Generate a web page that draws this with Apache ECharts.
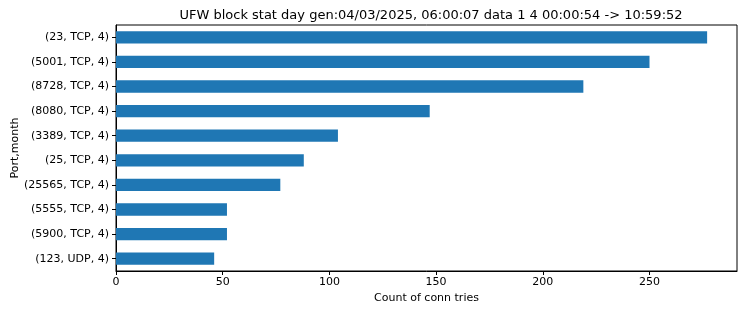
<!DOCTYPE html>
<html>
<head>
<meta charset="utf-8">
<script src="https://cdn.jsdelivr.net/npm/echarts@6/dist/echarts.min.js"></script>
<style>html,body{margin:0;padding:0;background:#fff}#c{width:743px;height:311px}</style>
</head>
<body>
<div id="c"></div>
<script>
const categories = ["(23, TCP, 4)", "(5001, TCP, 4)", "(8728, TCP, 4)", "(8080, TCP, 4)", "(3389, TCP, 4)", "(25, TCP, 4)", "(25565, TCP, 4)", "(5555, TCP, 4)", "(5900, TCP, 4)", "(123, UDP, 4)"];
const counts = [277, 250, 219, 147, 104, 88, 77, 52, 52, 46];
const xTicks = [0, 50, 100, 150, 200, 250];
const titleText = "UFW block stat day gen:04/03/2025, 06:00:07 data 1 4 00:00:54 -> 10:59:52";

const font = "DejaVu Sans";
const chart = echarts.init(document.getElementById('c'), null, {renderer: 'canvas'});
chart.setOption({
  animation: false,
  title: {
    text: titleText,
    left: 426, top: 4, textAlign: 'center',
    textStyle: {fontFamily: font, fontSize: 13, fontWeight: 'normal', color: '#000'}
  },
  grid: {left: 116, right: 6, top: 25, bottom: 40, show: true, borderColor: '#000', borderWidth: 1, backgroundColor: '#fff', containLabel: false, outerBoundsMode: 'none'},
  xAxis: {
    type: 'value', min: 0, max: 291,
    name: 'Count of conn tries', nameLocation: 'middle', nameGap: 22, nameMoveOverlap: false,
    nameTextStyle: {fontFamily: font, fontSize: 11, color: '#000'},
    splitLine: {show: false},
    axisLine: {show: true, onZero: false, lineStyle: {color: '#000', width: 1}},
    axisTick: {show: true, length: 4, lineStyle: {color: '#000'}, customValues: xTicks},
    axisLabel: {fontFamily: font, fontSize: 11, color: '#000', margin: 6, customValues: xTicks}
  },
  yAxis: {
    type: 'category', data: categories, inverse: true,
    name: 'Port,month', nameLocation: 'middle', nameGap: 95, nameMoveOverlap: false,
    nameTextStyle: {fontFamily: font, fontSize: 11, color: '#000'},
    axisLine: {show: true, lineStyle: {color: '#000', width: 1}},
    axisTick: {show: true, alignWithLabel: true, length: 4, lineStyle: {color: '#000'}},
    axisLabel: {fontFamily: font, fontSize: 11, color: '#000', margin: 7}
  },
  series: [{
    type: 'bar', data: counts, barCategoryGap: '50%',
    itemStyle: {color: '#1f77b4'}
  }]
});
</script>
</body>
</html>
